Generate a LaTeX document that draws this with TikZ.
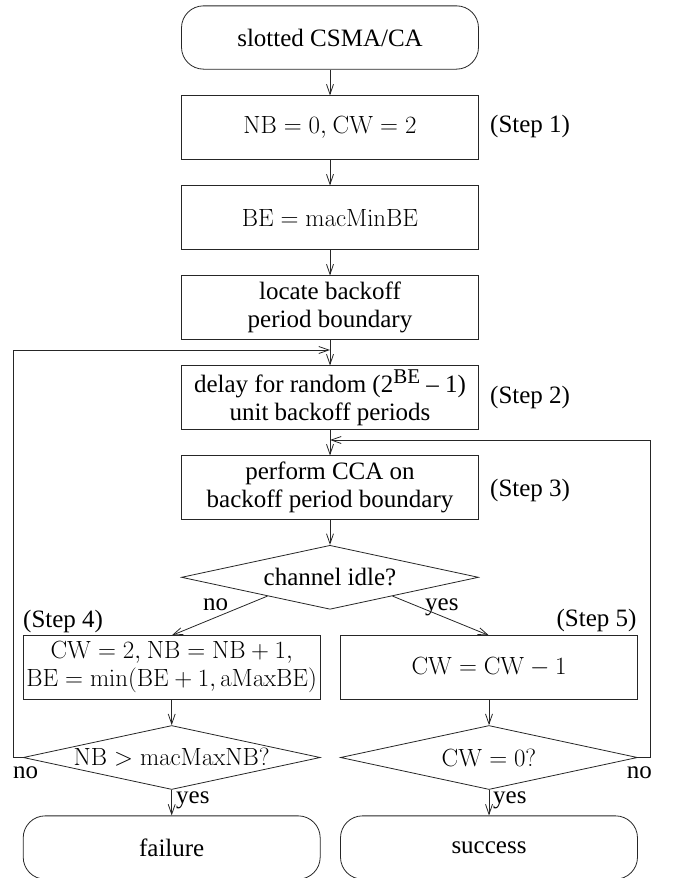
\documentclass[tikz,border=0pt]{standalone}
\usepackage[no-math]{fontspec}
\setmainfont{Liberation Serif}
\usetikzlibrary{shapes.geometric,arrows.meta,calc}
\newcommand{\txtsize}{\fontsize{25}{28}\selectfont}
\newcommand{\mthsize}{\fontsize{23}{28}\selectfont}
\begin{document}
\begin{tikzpicture}[x=1pt,y=1pt,
  every node/.style={font=\txtsize},
  base/.style={draw=black!85, line width=0.8pt, minimum width=297pt,
    minimum height=63.3pt, inner sep=0pt, align=center},
  proc/.style={base, rectangle},
  mproc/.style={base, rectangle, font=\mthsize},
  term/.style={base, rectangle, rounded corners=22pt},
  dec/.style={base, diamond, minimum height=64pt},
  lbl/.style={inner sep=0pt},
  conn/.style={draw=black!85, line width=0.8pt,
    -{Straight Barb[length=10pt,width=7pt]}},
]
\useasboundingbox (0,0) rectangle (672,-878);

% main column
\node[term] (start) at (330,-37.5) {slotted CSMA/CA};
\node[mproc] (b1) at (330,-127.5) {$\mathrm{NB}=0,$ $\mathrm{CW}=2$};
\node[mproc] (b2) at (330,-217.5) {$\mathrm{BE}=\mathrm{macMinBE}$};
\node[proc] (b3) at (330,-307.5) {locate backoff\\period boundary};
\node[proc] (b4) at (330,-397.5) {delay for random (2\raisebox{9pt}{\fontsize{21}{21}\selectfont BE} -- 1)\\unit backoff periods};
\node[proc] (b5) at (330,-487.5) {perform CCA on\\backoff period boundary};
\node[dec] (d1) at (330,-577.3) {};
\node[lbl] (d1t) at (d1.center) {channel idle?};

% left branch
\node[mproc] (b6) at (171.7,-667.5) {$\mathrm{CW}=2,$ $\mathrm{NB}=\mathrm{NB}+1,$\\$\mathrm{BE}=\min(\mathrm{BE}+1,\mathrm{aMaxBE})$};
\node[dec] (d2) at (171.7,-757.5) {};
\node[lbl, font=\mthsize] (d2t) at (d2.center) {$\mathrm{NB}>\mathrm{macMaxNB}?$};
\node[term] (fail) at (171.7,-847.5) {failure};

% right branch
\node[mproc] (b7) at (489,-667.5) {$\mathrm{CW}=\mathrm{CW}-1$};
\node[dec] (d3) at (489,-757.5) {};
\node[lbl, font=\mthsize] (d3t) at (d3.center) {$\mathrm{CW}=0?$};
\node[term] (succ) at (489,-847.5) {success};

% step labels
\node[lbl, anchor=base west] (s1) at (490,-132.7) {(Step 1)};
\node[lbl, anchor=base west] (s2) at (490,-403.3) {(Step 2)};
\node[lbl, anchor=base west] (s3) at (490,-496.7) {(Step 3)};
\node[lbl, anchor=base west] (s4) at (23,-627.3) {(Step 4)};
\node[lbl, anchor=base east] (s5) at (636.7,-626.7) {(Step 5)};

% yes / no labels
\node[lbl, anchor=base west] (n1) at (203,-610) {no};
\node[lbl, anchor=base west] (y1) at (425,-610) {yes};
\node[lbl, anchor=base west] (n2) at (13,-778.3) {no};
\node[lbl, anchor=base west] (n3) at (626.7,-778.3) {no};
\node[lbl, anchor=base west] (y2) at (176,-803) {yes};
\node[lbl, anchor=base west] (y3) at (493,-803) {yes};

% connectors
\draw[conn] (start) -- (b1);
\draw[conn] (b1) -- (b2);
\draw[conn] (b2) -- (b3);
\draw[conn] (b3) -- (b4);
\draw[conn] (b4) -- (b5);
\draw[conn] (b5) -- (d1);
\draw[conn] ($(d1.south)!0.42!(d1.west)$) -- (b6.north);
\draw[conn] ($(d1.south)!0.42!(d1.east)$) -- (b7.north);
\draw[conn] (b6) -- (d2);
\draw[conn] (b7) -- (d3);
\draw[conn] (d2) -- (fail);
\draw[conn] (d3) -- (succ);

\coordinate (lp) at (330,-350);
\coordinate (rp) at (330,-440);
\draw[conn] (d2.west) -- ++(-9.4,0) |- (lp);
\draw[conn] (d3.east) -- ++(12.7,0) |- (rp);
\end{tikzpicture}
\end{document}
